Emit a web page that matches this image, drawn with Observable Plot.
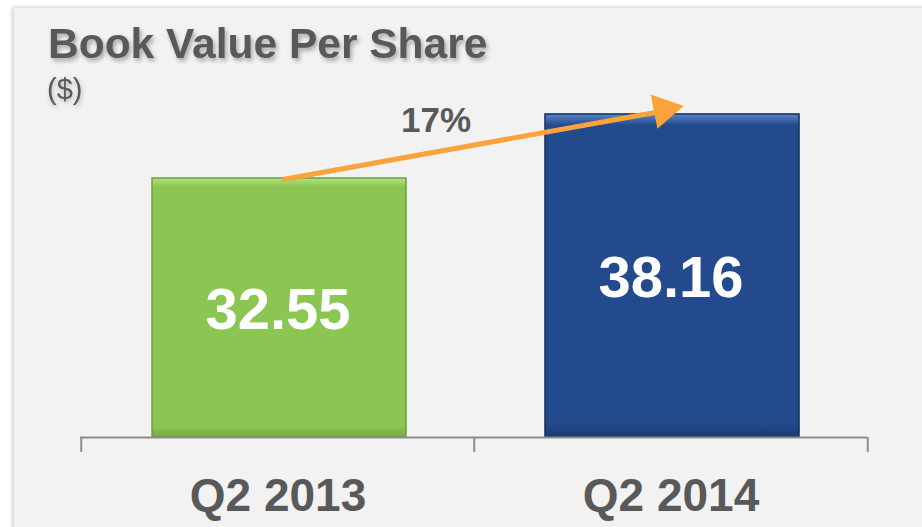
<!DOCTYPE html>
<html>
<head>
<meta charset="utf-8">
<script src="https://cdn.jsdelivr.net/npm/d3@7"></script>
<script src="https://cdn.jsdelivr.net/npm/@observablehq/plot@0.6"></script>
<style>
  html, body { margin: 0; padding: 0; background: #ffffff; }
  #wrap { position: relative; width: 922px; height: 527px; overflow: hidden; background: #ffffff; }
  #panel { position: absolute; left: 14px; top: 8px; width: 920px; height: 530px; background: #f2f2f2;
           box-shadow: -2px -1px 4px rgba(0,0,0,0.18); }
  #chart { position: absolute; left: 0; top: 0; }
  svg { font-family: "Liberation Sans", Arial, sans-serif; }
</style>
</head>
<body>
<div id="wrap"><div id="panel"></div><div id="chart"></div></div>
<script>
// ---- data ----
const categories = ["Q2 2013", "Q2 2014"];
const values = [32.55, 38.16];
const valueLabels = ["32.55", "38.16"];
const barColors = ["#8BC653", "#234A8C"];
const barHighlights = ["#B4E07F", "#5B83C9"];
const barShades = ["#74A843", "#1B3A70"];
const barStrokes = ["#6E9E3F", "#132E5E"];
const growthLabel = "17%";
const arrowEndValue = 38.75;
const title = "Book Value Per Share";
const unit = "($)";
const yDomain = [9.85, 42.89];

const bars = categories.map((c, i) => ({category: c, value: values[i], label: valueLabels[i], color: `url(#bargrad${i})`, stroke: barStrokes[i]}));
const arrowData = [{x1: categories[0], y1: values[0], x2: categories[1], y2: arrowEndValue}];
const tickDepth = 1.3;

const chart = Plot.plot({
  width: 922,
  height: 527,
  marginLeft: 80,
  marginRight: 55,
  marginTop: 60,
  marginBottom: 90,
  style: {background: "transparent", fontFamily: "Liberation Sans, Arial, sans-serif", overflow: "visible"},
  x: {domain: categories, padding: 0, label: null},
  y: {domain: yDomain, axis: null},
  marks: [
    Plot.barY(bars, {x: "category", y1: yDomain[0], y2: "value", fill: d => d.color, stroke: d => d.stroke, strokeWidth: 1.5,
      insetLeft: 71, insetRight: 68, style: "filter: drop-shadow(2px 2px 2px rgba(0,0,0,0.35))"}),
    Plot.ruleY([yDomain[0]], {stroke: "#8C8C8C", strokeWidth: 2}),
    Plot.ruleX(bars, {x: "category", y1: yDomain[0], y2: yDomain[0] - tickDepth, dx: -196.75, stroke: "#8C8C8C", strokeWidth: 2}),
    Plot.ruleX(bars.slice(-1), {x: "category", y1: yDomain[0], y2: yDomain[0] - tickDepth, dx: 196.75, stroke: "#8C8C8C", strokeWidth: 2}),
    Plot.axisX({tickSize: 0, tickPadding: 41, fontSize: 46, fontWeight: "bold", fill: "#595959", label: null}),
    Plot.text(bars, {x: "category", y: d => (yDomain[0] + d.value) / 2, text: "label", fill: "white",
      fontSize: 58, fontWeight: "bold", lineAnchor: "middle", dy: 2}),
    Plot.link(arrowData, {x1: "x1", y1: "y1", x2: "x2", y2: "y2", stroke: "#F9A33A", strokeWidth: 5, dx: 5, dy: 1,
      style: "filter: drop-shadow(2px 2px 2px rgba(0,0,0,0.3))"}),
    Plot.dot(arrowData, {x: "x2", y: "y2", symbol: "triangle", r: 13, fill: "#F9A33A", stroke: "none", rotate: 79, dx: -7, dy: 2,
      style: "filter: drop-shadow(2px 2px 2px rgba(0,0,0,0.3))"})
  ]
});

const svg = d3.select(chart);
const defs = svg.insert("defs", ":first-child");
barColors.forEach((c, i) => {
  const g = defs.append("linearGradient").attr("id", `bargrad${i}`).attr("x1", 0).attr("y1", 0).attr("x2", 0).attr("y2", 1);
  g.append("stop").attr("offset", 0).attr("stop-color", barHighlights[i]);
  g.append("stop").attr("offset", 0.035).attr("stop-color", c);
  g.append("stop").attr("offset", 0.96).attr("stop-color", c);
  g.append("stop").attr("offset", 1).attr("stop-color", barShades[i]);
});
svg.append("text").attr("x", 48).attr("y", 58).attr("font-size", 42.5).attr("font-weight", "bold")
  .attr("text-anchor", "start")
  .attr("fill", "#595959").style("filter", "drop-shadow(2px 3px 2px rgba(0,0,0,0.3))").text(title);
svg.append("text").attr("x", 47).attr("y", 99).attr("font-size", 29).attr("text-anchor", "start")
  .attr("fill", "#595959").style("filter", "drop-shadow(1px 2px 2px rgba(0,0,0,0.25))").text(unit);
svg.append("text").attr("x", 436).attr("y", 132).attr("font-size", 35).attr("font-weight", "bold")
  .attr("text-anchor", "middle").attr("fill", "#595959").text(growthLabel);

document.getElementById("chart").appendChild(chart);
</script>
</body>
</html>
